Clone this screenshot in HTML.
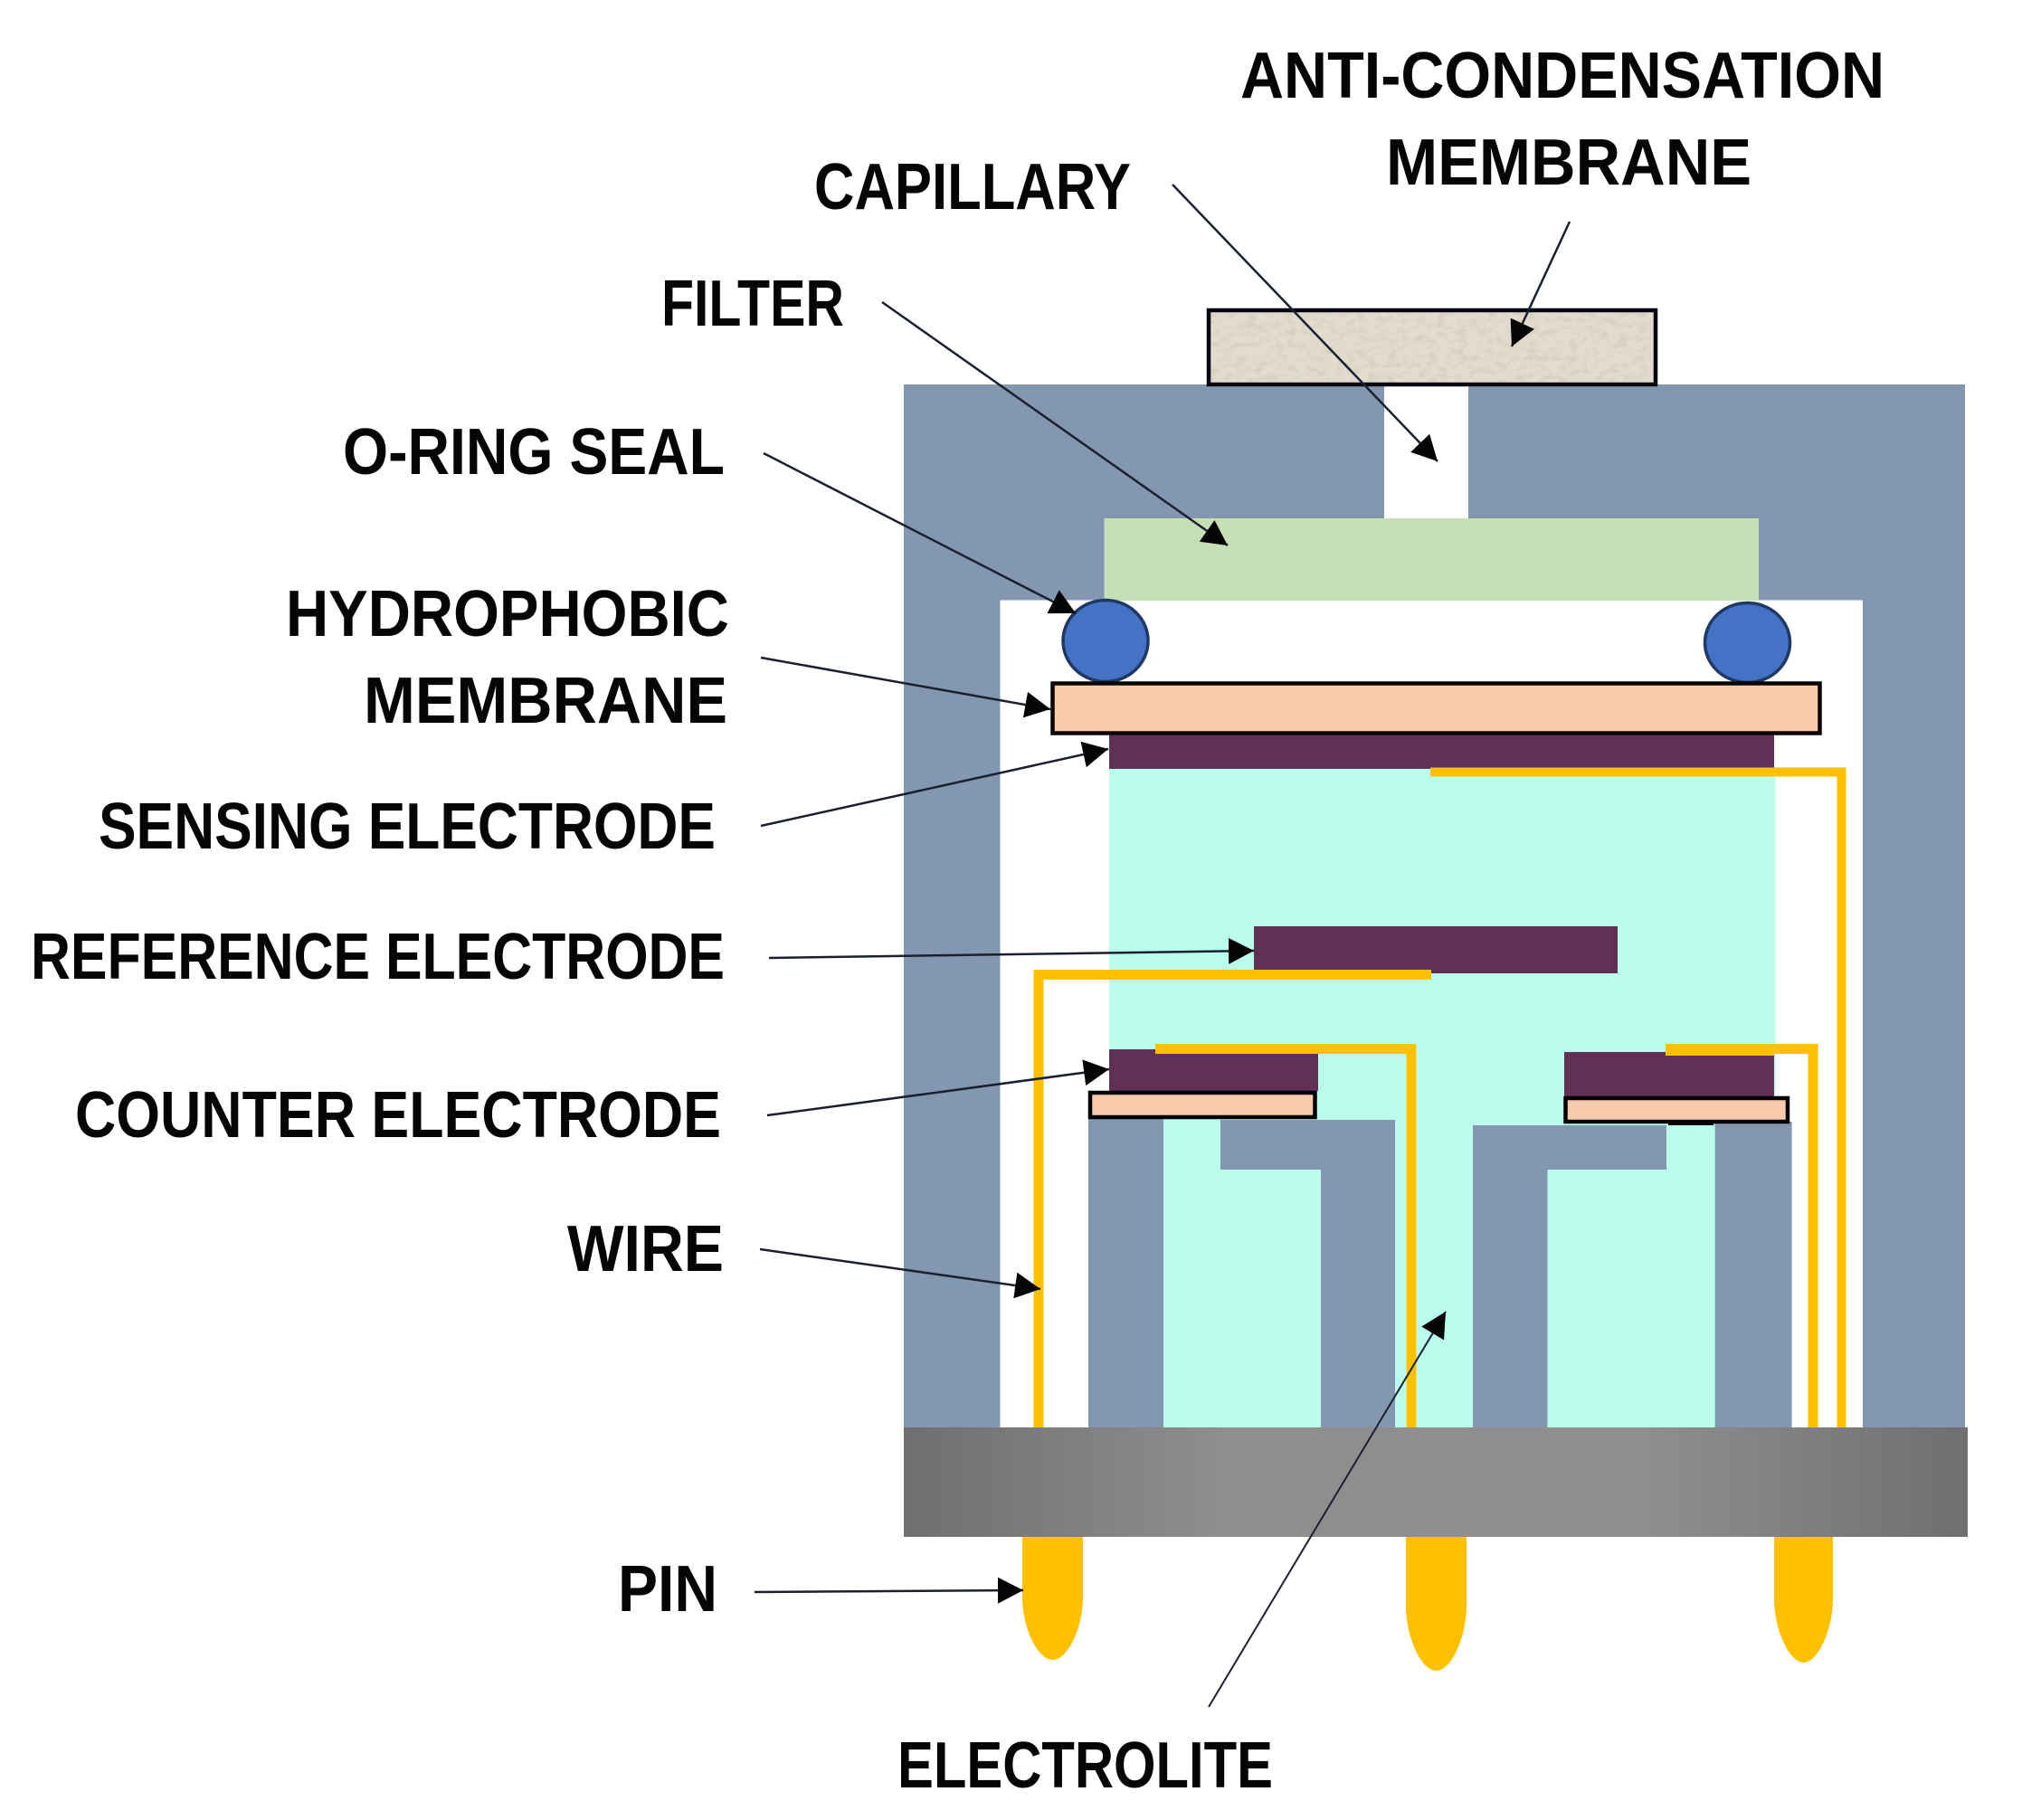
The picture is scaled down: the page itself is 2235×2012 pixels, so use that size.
<!DOCTYPE html>
<html><head><meta charset="utf-8"><style>
html,body{margin:0;padding:0;background:#fff}
svg{display:block}
text{font-family:"Liberation Sans",sans-serif;font-weight:bold;font-size:72px;fill:#050505}
.c{stroke:#1a2030;stroke-width:2.5;fill:none;marker-end:url(#a)}
</style></head><body>
<svg width="2235" height="2012" viewBox="0 0 2235 2012" xmlns="http://www.w3.org/2000/svg">
<defs>
<marker id="a" markerUnits="userSpaceOnUse" markerWidth="32" markerHeight="32" refX="28" refY="14.5" orient="auto" viewBox="0 0 32 32"><path d="M0 0L28 14.5L0 29z" fill="#050505"/></marker>
<linearGradient id="g" x1="0" x2="1" y1="0" y2="0">
<stop offset="0" stop-color="#6f6f6f"/><stop offset=".3" stop-color="#8e8e8e"/><stop offset=".7" stop-color="#8e8e8e"/><stop offset="1" stop-color="#6f6f6f"/>
</linearGradient>
<filter id="t" x="0" y="0" width="100%" height="100%">
<feTurbulence type="fractalNoise" baseFrequency="0.09 0.14" numOctaves="3" seed="4" result="n"/>
<feColorMatrix in="n" type="matrix" values="0 0 0 0 .6  0 0 0 0 .55  0 0 0 0 .45  1.6 0 0 0 -.75"/>
<feComposite in2="SourceGraphic" operator="in" result="m"/>
<feMerge><feMergeNode in="SourceGraphic"/><feMergeNode in="m"/></feMerge>
</filter>
</defs>
<rect width="2235" height="2012" fill="#fff"/>
<!-- body -->
<rect x="999" y="425" width="1173" height="1155" fill="#8497b0"/>
<rect x="1105.5" y="663.5" width="953.5" height="916" fill="#fff"/>
<rect x="1530" y="425" width="93" height="150" fill="#fff"/>
<!-- membrane top -->
<rect x="1336" y="343" width="494" height="82" fill="#e2dbce" filter="url(#t)"/>
<rect x="1336" y="343" width="494" height="82" fill="none" stroke="#050510" stroke-width="4.5"/>
<!-- filter -->
<rect x="1220.5" y="573" width="723.5" height="91" fill="#c5e0b4"/>
<!-- electrolyte -->
<rect x="1226" y="850" width="736.5" height="729" fill="#bbfdec"/>
<!-- pieces -->
<rect x="1203" y="1236" width="83" height="343" fill="#8497b0"/>
<path d="M1349 1238H1542V1579H1460V1293H1349z" fill="#8497b0"/>
<path d="M1628 1244H1842V1293H1710.5V1579H1628z" fill="#8497b0"/>
<rect x="1895.6" y="1240" width="85" height="339" fill="#8497b0"/>
<!-- sensing electrode -->
<rect x="1226" y="811" width="735" height="39" fill="#622f55"/>
<!-- reference electrode -->
<rect x="1386" y="1024" width="402" height="52" fill="#622f55"/>
<!-- counter electrodes -->
<rect x="1226" y="1160" width="231" height="46" fill="#622f55"/>
<rect x="1729" y="1163" width="232" height="49" fill="#622f55"/>
<rect x="1205" y="1208" width="248.5" height="27" fill="#f8cbad" stroke="#000" stroke-width="4.5"/>
<rect x="1730.5" y="1214" width="245.5" height="26" fill="#f8cbad" stroke="#000" stroke-width="4.5"/>
<rect x="1844" y="1240" width="50" height="4" fill="#000"/>
<!-- O-rings -->
<ellipse cx="1222" cy="708.5" rx="47" ry="45" fill="#4472c4" stroke="#1f3864" stroke-width="3.5"/>
<ellipse cx="1931.5" cy="710.5" rx="47" ry="44" fill="#4472c4" stroke="#1f3864" stroke-width="3.5"/>
<!-- hydrophobic membrane -->
<rect x="1163.5" y="755.5" width="848" height="55" fill="#f8cbad" stroke="#0a0505" stroke-width="4.5"/>
<!-- wires -->
<g fill="none" stroke="#ffc000">
<path d="M1581 853.5H2035.5V1580" stroke-width="10"/>
<path d="M1148 1580V1077.5H1582" stroke-width="11"/>
<path d="M1277 1159.5H1560V1592" stroke-width="11"/>
<path d="M1841 1159.5H2004V1580" stroke-width="11"/>
<path d="M1841 1160.5H1961" stroke-width="13"/>
</g>
<!-- base -->
<rect x="999" y="1578" width="1176" height="121" fill="url(#g)"/>
<!-- pins -->
<g fill="#ffc000">
<path d="M1130 1699H1197V1765C1197 1800 1180 1835 1163.5 1835C1147 1835 1130 1800 1130 1765z"/>
<path d="M1554 1699H1621V1775C1621 1810 1604 1847 1587.5 1847C1571 1847 1554 1810 1554 1775z"/>
<path d="M1961 1699H2026V1767C2026 1802 2009 1838 1993.5 1838C1978 1838 1961 1802 1961 1767z"/>
</g>
<!-- connectors -->
<line class="c" x1="1735" y1="245" x2="1671" y2="383"/>
<line class="c" x1="1296" y1="204" x2="1589" y2="510"/>
<line class="c" x1="975" y1="334" x2="1357" y2="603"/>
<line class="c" x1="844" y1="501" x2="1189" y2="678"/>
<line class="c" x1="841" y1="727" x2="1161" y2="784"/>
<line class="c" x1="841" y1="913" x2="1225" y2="828"/>
<line class="c" x1="850" y1="1059" x2="1386" y2="1051"/>
<line class="c" x1="848" y1="1233" x2="1226" y2="1182"/>
<line class="c" x1="840" y1="1381" x2="1150" y2="1425"/>
<line class="c" x1="834" y1="1760" x2="1131" y2="1758"/>
<line class="c" x1="1336" y1="1887" x2="1598" y2="1450" style="stroke-width:2"/>
<!-- labels -->
<text x="1371" y="108" textLength="712" lengthAdjust="spacingAndGlyphs">ANTI-CONDENSATION</text>
<text x="1532" y="204" textLength="404" lengthAdjust="spacingAndGlyphs">MEMBRANE</text>
<text x="900" y="231" textLength="350" lengthAdjust="spacingAndGlyphs">CAPILLARY</text>
<text x="731" y="360" textLength="202" lengthAdjust="spacingAndGlyphs">FILTER</text>
<text x="379" y="524" textLength="422" lengthAdjust="spacingAndGlyphs">O-RING SEAL</text>
<text x="316" y="703" textLength="490" lengthAdjust="spacingAndGlyphs">HYDROPHOBIC</text>
<text x="402" y="799" textLength="402" lengthAdjust="spacingAndGlyphs">MEMBRANE</text>
<text x="109" y="938" textLength="682" lengthAdjust="spacingAndGlyphs">SENSING ELECTRODE</text>
<text x="34" y="1082" textLength="767" lengthAdjust="spacingAndGlyphs">REFERENCE ELECTRODE</text>
<text x="83" y="1257" textLength="714" lengthAdjust="spacingAndGlyphs">COUNTER ELECTRODE</text>
<text x="627" y="1405" textLength="173" lengthAdjust="spacingAndGlyphs">WIRE</text>
<text x="683" y="1781" textLength="110" lengthAdjust="spacingAndGlyphs">PIN</text>
<text x="992" y="1976" textLength="415" lengthAdjust="spacingAndGlyphs">ELECTROLITE</text>
</svg>
</body></html>
